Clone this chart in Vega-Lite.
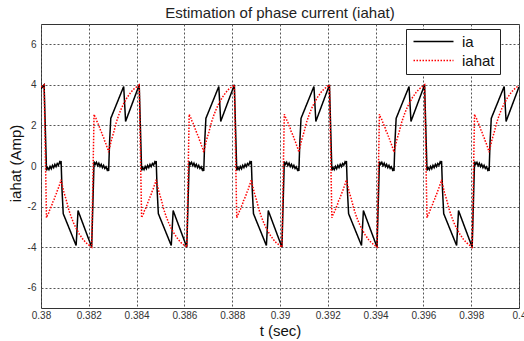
{
"$schema": "https://vega.github.io/schema/vega-lite/v6.json",
"width": 478,
"height": 284,
"autosize": {"type": "none"},
"padding": {"left": 41, "top": 24, "right": 5, "bottom": 33},
"background": "white",
"title": {"text": "Estimation of phase current (iahat)", "fontSize": 15, "font": "Liberation Sans", "fontWeight": "normal", "color": "#222", "offset": 6, "dy": 15, "baseline": "alphabetic", "anchor": "middle"},
"config": {
"view": {"stroke": "#333", "strokeWidth": 1},
"axis": {"labelFont": "Liberation Sans", "titleFont": "Liberation Sans", "labelFontSize": 10, "labelColor": "#333", "titleColor": "#111", "titleFontWeight": "normal", "gridColor": "#555", "gridDash": [2, 2], "gridWidth": 1, "gridOpacity": 1, "ticks": false, "domain": false},
"legend": {"labelFont": "Liberation Sans"}
},
"data": {"values": [
{"t":0.38,"v":3.8,"s":"ia"},{"t":0.38013,"v":4.0,"s":"ia"},
{"t":0.38023,"v":-0.22,"s":"ia"},{"t":0.38028,"v":-0.08,"s":"ia"},{"t":0.38033,"v":-0.18,"s":"ia"},{"t":0.38038,"v":-0.02,"s":"ia"},{"t":0.38043,"v":-0.14,"s":"ia"},{"t":0.38048,"v":0.03,"s":"ia"},{"t":0.38053,"v":-0.08,"s":"ia"},{"t":0.38058,"v":0.08,"s":"ia"},{"t":0.38063,"v":-0.03,"s":"ia"},{"t":0.38068,"v":0.12,"s":"ia"},{"t":0.38073,"v":0.04,"s":"ia"},{"t":0.38078,"v":0.2,"s":"ia"},{"t":0.38082,"v":0.12,"s":"ia"},{"t":0.38084,"v":0.25,"s":"ia"},{"t":0.38088,"v":-1.2,"s":"ia"},{"t":0.38093,"v":-2.35,"s":"ia"},{"t":0.38147,"v":-3.92,"s":"ia"},{"t":0.38155,"v":-2.2,"s":"ia"},{"t":0.38212,"v":-4.0,"s":"ia"},
{"t":0.38222,"v":0.22,"s":"ia"},{"t":0.38227,"v":0.08,"s":"ia"},{"t":0.38232,"v":0.18,"s":"ia"},{"t":0.38237,"v":0.02,"s":"ia"},{"t":0.38242,"v":0.14,"s":"ia"},{"t":0.38247,"v":-0.03,"s":"ia"},{"t":0.38252,"v":0.08,"s":"ia"},{"t":0.38257,"v":-0.08,"s":"ia"},{"t":0.38262,"v":0.03,"s":"ia"},{"t":0.38267,"v":-0.12,"s":"ia"},{"t":0.38272,"v":-0.04,"s":"ia"},{"t":0.38277,"v":-0.2,"s":"ia"},{"t":0.38281,"v":-0.12,"s":"ia"},{"t":0.38283,"v":-0.25,"s":"ia"},{"t":0.38287,"v":1.2,"s":"ia"},{"t":0.38292,"v":2.35,"s":"ia"},{"t":0.38346,"v":3.92,"s":"ia"},{"t":0.38354,"v":2.2,"s":"ia"},{"t":0.38411,"v":4.0,"s":"ia"},
{"t":0.38421,"v":-0.22,"s":"ia"},{"t":0.38426,"v":-0.08,"s":"ia"},{"t":0.38431,"v":-0.18,"s":"ia"},{"t":0.38436,"v":-0.02,"s":"ia"},{"t":0.38441,"v":-0.14,"s":"ia"},{"t":0.38446,"v":0.03,"s":"ia"},{"t":0.38451,"v":-0.08,"s":"ia"},{"t":0.38456,"v":0.08,"s":"ia"},{"t":0.38461,"v":-0.03,"s":"ia"},{"t":0.38466,"v":0.12,"s":"ia"},{"t":0.38471,"v":0.04,"s":"ia"},{"t":0.38476,"v":0.2,"s":"ia"},{"t":0.3848,"v":0.12,"s":"ia"},{"t":0.38482,"v":0.25,"s":"ia"},{"t":0.38486,"v":-1.2,"s":"ia"},{"t":0.38491,"v":-2.35,"s":"ia"},{"t":0.38545,"v":-3.92,"s":"ia"},{"t":0.38553,"v":-2.2,"s":"ia"},{"t":0.3861,"v":-4.0,"s":"ia"},
{"t":0.3862,"v":0.22,"s":"ia"},{"t":0.38625,"v":0.08,"s":"ia"},{"t":0.3863,"v":0.18,"s":"ia"},{"t":0.38635,"v":0.02,"s":"ia"},{"t":0.3864,"v":0.14,"s":"ia"},{"t":0.38645,"v":-0.03,"s":"ia"},{"t":0.3865,"v":0.08,"s":"ia"},{"t":0.38655,"v":-0.08,"s":"ia"},{"t":0.3866,"v":0.03,"s":"ia"},{"t":0.38665,"v":-0.12,"s":"ia"},{"t":0.3867,"v":-0.04,"s":"ia"},{"t":0.38675,"v":-0.2,"s":"ia"},{"t":0.38679,"v":-0.12,"s":"ia"},{"t":0.38681,"v":-0.25,"s":"ia"},{"t":0.38685,"v":1.2,"s":"ia"},{"t":0.3869,"v":2.35,"s":"ia"},{"t":0.38744,"v":3.92,"s":"ia"},{"t":0.38752,"v":2.2,"s":"ia"},{"t":0.38809,"v":4.0,"s":"ia"},
{"t":0.38819,"v":-0.22,"s":"ia"},{"t":0.38824,"v":-0.08,"s":"ia"},{"t":0.38829,"v":-0.18,"s":"ia"},{"t":0.38834,"v":-0.02,"s":"ia"},{"t":0.38839,"v":-0.14,"s":"ia"},{"t":0.38844,"v":0.03,"s":"ia"},{"t":0.38849,"v":-0.08,"s":"ia"},{"t":0.38854,"v":0.08,"s":"ia"},{"t":0.38859,"v":-0.03,"s":"ia"},{"t":0.38864,"v":0.12,"s":"ia"},{"t":0.38869,"v":0.04,"s":"ia"},{"t":0.38874,"v":0.2,"s":"ia"},{"t":0.38878,"v":0.12,"s":"ia"},{"t":0.3888,"v":0.25,"s":"ia"},{"t":0.38884,"v":-1.2,"s":"ia"},{"t":0.38889,"v":-2.35,"s":"ia"},{"t":0.38943,"v":-3.92,"s":"ia"},{"t":0.38951,"v":-2.2,"s":"ia"},{"t":0.39008,"v":-4.0,"s":"ia"},
{"t":0.39018,"v":0.22,"s":"ia"},{"t":0.39023,"v":0.08,"s":"ia"},{"t":0.39028,"v":0.18,"s":"ia"},{"t":0.39033,"v":0.02,"s":"ia"},{"t":0.39038,"v":0.14,"s":"ia"},{"t":0.39043,"v":-0.03,"s":"ia"},{"t":0.39048,"v":0.08,"s":"ia"},{"t":0.39053,"v":-0.08,"s":"ia"},{"t":0.39058,"v":0.03,"s":"ia"},{"t":0.39063,"v":-0.12,"s":"ia"},{"t":0.39068,"v":-0.04,"s":"ia"},{"t":0.39073,"v":-0.2,"s":"ia"},{"t":0.39077,"v":-0.12,"s":"ia"},{"t":0.39079,"v":-0.25,"s":"ia"},{"t":0.39083,"v":1.2,"s":"ia"},{"t":0.39088,"v":2.35,"s":"ia"},{"t":0.39142,"v":3.92,"s":"ia"},{"t":0.3915,"v":2.2,"s":"ia"},{"t":0.39207,"v":4.0,"s":"ia"},
{"t":0.39217,"v":-0.22,"s":"ia"},{"t":0.39222,"v":-0.08,"s":"ia"},{"t":0.39227,"v":-0.18,"s":"ia"},{"t":0.39232,"v":-0.02,"s":"ia"},{"t":0.39237,"v":-0.14,"s":"ia"},{"t":0.39242,"v":0.03,"s":"ia"},{"t":0.39247,"v":-0.08,"s":"ia"},{"t":0.39252,"v":0.08,"s":"ia"},{"t":0.39257,"v":-0.03,"s":"ia"},{"t":0.39262,"v":0.12,"s":"ia"},{"t":0.39267,"v":0.04,"s":"ia"},{"t":0.39272,"v":0.2,"s":"ia"},{"t":0.39276,"v":0.12,"s":"ia"},{"t":0.39278,"v":0.25,"s":"ia"},{"t":0.39282,"v":-1.2,"s":"ia"},{"t":0.39287,"v":-2.35,"s":"ia"},{"t":0.39341,"v":-3.92,"s":"ia"},{"t":0.39349,"v":-2.2,"s":"ia"},{"t":0.39406,"v":-4.0,"s":"ia"},
{"t":0.39416,"v":0.22,"s":"ia"},{"t":0.39421,"v":0.08,"s":"ia"},{"t":0.39426,"v":0.18,"s":"ia"},{"t":0.39431,"v":0.02,"s":"ia"},{"t":0.39436,"v":0.14,"s":"ia"},{"t":0.39441,"v":-0.03,"s":"ia"},{"t":0.39446,"v":0.08,"s":"ia"},{"t":0.39451,"v":-0.08,"s":"ia"},{"t":0.39456,"v":0.03,"s":"ia"},{"t":0.39461,"v":-0.12,"s":"ia"},{"t":0.39466,"v":-0.04,"s":"ia"},{"t":0.39471,"v":-0.2,"s":"ia"},{"t":0.39475,"v":-0.12,"s":"ia"},{"t":0.39477,"v":-0.25,"s":"ia"},{"t":0.39481,"v":1.2,"s":"ia"},{"t":0.39486,"v":2.35,"s":"ia"},{"t":0.3954,"v":3.92,"s":"ia"},{"t":0.39548,"v":2.2,"s":"ia"},{"t":0.39605,"v":4.0,"s":"ia"},
{"t":0.39615,"v":-0.22,"s":"ia"},{"t":0.3962,"v":-0.08,"s":"ia"},{"t":0.39625,"v":-0.18,"s":"ia"},{"t":0.3963,"v":-0.02,"s":"ia"},{"t":0.39635,"v":-0.14,"s":"ia"},{"t":0.3964,"v":0.03,"s":"ia"},{"t":0.39645,"v":-0.08,"s":"ia"},{"t":0.3965,"v":0.08,"s":"ia"},{"t":0.39655,"v":-0.03,"s":"ia"},{"t":0.3966,"v":0.12,"s":"ia"},{"t":0.39665,"v":0.04,"s":"ia"},{"t":0.3967,"v":0.2,"s":"ia"},{"t":0.39674,"v":0.12,"s":"ia"},{"t":0.39676,"v":0.25,"s":"ia"},{"t":0.3968,"v":-1.2,"s":"ia"},{"t":0.39685,"v":-2.35,"s":"ia"},{"t":0.39739,"v":-3.92,"s":"ia"},{"t":0.39747,"v":-2.2,"s":"ia"},{"t":0.39804,"v":-4.0,"s":"ia"},
{"t":0.39814,"v":0.22,"s":"ia"},{"t":0.39819,"v":0.08,"s":"ia"},{"t":0.39824,"v":0.18,"s":"ia"},{"t":0.39829,"v":0.02,"s":"ia"},{"t":0.39834,"v":0.14,"s":"ia"},{"t":0.39839,"v":-0.03,"s":"ia"},{"t":0.39844,"v":0.08,"s":"ia"},{"t":0.39849,"v":-0.08,"s":"ia"},{"t":0.39854,"v":0.03,"s":"ia"},{"t":0.39859,"v":-0.12,"s":"ia"},{"t":0.39864,"v":-0.04,"s":"ia"},{"t":0.39869,"v":-0.2,"s":"ia"},{"t":0.39873,"v":-0.12,"s":"ia"},{"t":0.39875,"v":-0.25,"s":"ia"},{"t":0.39879,"v":1.2,"s":"ia"},{"t":0.39884,"v":2.35,"s":"ia"},{"t":0.39938,"v":3.92,"s":"ia"},{"t":0.39946,"v":2.2,"s":"ia"},{"t":0.4,"v":3.9,"s":"ia"},
{"t":0.38,"v":3.9,"s":"iahat"},{"t":0.38013,"v":4.0,"s":"iahat"},
{"t":0.38023,"v":-2.55,"s":"iahat"},{"t":0.38027,"v":-2.42,"s":"iahat"},{"t":0.38031,"v":-2.35,"s":"iahat"},{"t":0.38035,"v":-2.2,"s":"iahat"},{"t":0.38039,"v":-2.12,"s":"iahat"},{"t":0.38043,"v":-1.98,"s":"iahat"},{"t":0.38047,"v":-1.88,"s":"iahat"},{"t":0.38051,"v":-1.72,"s":"iahat"},{"t":0.38055,"v":-1.64,"s":"iahat"},{"t":0.38059,"v":-1.5,"s":"iahat"},{"t":0.38063,"v":-1.4,"s":"iahat"},{"t":0.38067,"v":-1.25,"s":"iahat"},{"t":0.38071,"v":-1.15,"s":"iahat"},{"t":0.38075,"v":-1.0,"s":"iahat"},{"t":0.38079,"v":-0.88,"s":"iahat"},{"t":0.38084,"v":-0.68,"s":"iahat"},{"t":0.38089,"v":-0.95,"s":"iahat"},{"t":0.38096,"v":-1.3,"s":"iahat"},{"t":0.38105,"v":-1.65,"s":"iahat"},{"t":0.38116,"v":-2.15,"s":"iahat"},{"t":0.38126,"v":-2.5,"s":"iahat"},{"t":0.38136,"v":-2.8,"s":"iahat"},{"t":0.38146,"v":-3.05,"s":"iahat"},{"t":0.38161,"v":-3.37,"s":"iahat"},{"t":0.38176,"v":-3.62,"s":"iahat"},{"t":0.38188,"v":-3.78,"s":"iahat"},{"t":0.38201,"v":-3.9,"s":"iahat"},{"t":0.38212,"v":-4.0,"s":"iahat"},
{"t":0.38222,"v":2.55,"s":"iahat"},{"t":0.38226,"v":2.42,"s":"iahat"},{"t":0.3823,"v":2.35,"s":"iahat"},{"t":0.38234,"v":2.2,"s":"iahat"},{"t":0.38238,"v":2.12,"s":"iahat"},{"t":0.38242,"v":1.98,"s":"iahat"},{"t":0.38246,"v":1.88,"s":"iahat"},{"t":0.3825,"v":1.72,"s":"iahat"},{"t":0.38254,"v":1.64,"s":"iahat"},{"t":0.38258,"v":1.5,"s":"iahat"},{"t":0.38262,"v":1.4,"s":"iahat"},{"t":0.38266,"v":1.25,"s":"iahat"},{"t":0.3827,"v":1.15,"s":"iahat"},{"t":0.38274,"v":1.0,"s":"iahat"},{"t":0.38278,"v":0.88,"s":"iahat"},{"t":0.38283,"v":0.68,"s":"iahat"},{"t":0.38288,"v":0.95,"s":"iahat"},{"t":0.38295,"v":1.3,"s":"iahat"},{"t":0.38304,"v":1.65,"s":"iahat"},{"t":0.38315,"v":2.15,"s":"iahat"},{"t":0.38325,"v":2.5,"s":"iahat"},{"t":0.38335,"v":2.8,"s":"iahat"},{"t":0.38345,"v":3.05,"s":"iahat"},{"t":0.3836,"v":3.37,"s":"iahat"},{"t":0.38375,"v":3.62,"s":"iahat"},{"t":0.38387,"v":3.78,"s":"iahat"},{"t":0.384,"v":3.9,"s":"iahat"},{"t":0.38411,"v":4.0,"s":"iahat"},
{"t":0.38421,"v":-2.55,"s":"iahat"},{"t":0.38425,"v":-2.42,"s":"iahat"},{"t":0.38429,"v":-2.35,"s":"iahat"},{"t":0.38433,"v":-2.2,"s":"iahat"},{"t":0.38437,"v":-2.12,"s":"iahat"},{"t":0.38441,"v":-1.98,"s":"iahat"},{"t":0.38445,"v":-1.88,"s":"iahat"},{"t":0.38449,"v":-1.72,"s":"iahat"},{"t":0.38453,"v":-1.64,"s":"iahat"},{"t":0.38457,"v":-1.5,"s":"iahat"},{"t":0.38461,"v":-1.4,"s":"iahat"},{"t":0.38465,"v":-1.25,"s":"iahat"},{"t":0.38469,"v":-1.15,"s":"iahat"},{"t":0.38473,"v":-1.0,"s":"iahat"},{"t":0.38477,"v":-0.88,"s":"iahat"},{"t":0.38482,"v":-0.68,"s":"iahat"},{"t":0.38487,"v":-0.95,"s":"iahat"},{"t":0.38494,"v":-1.3,"s":"iahat"},{"t":0.38503,"v":-1.65,"s":"iahat"},{"t":0.38514,"v":-2.15,"s":"iahat"},{"t":0.38524,"v":-2.5,"s":"iahat"},{"t":0.38534,"v":-2.8,"s":"iahat"},{"t":0.38544,"v":-3.05,"s":"iahat"},{"t":0.38559,"v":-3.37,"s":"iahat"},{"t":0.38574,"v":-3.62,"s":"iahat"},{"t":0.38586,"v":-3.78,"s":"iahat"},{"t":0.38599,"v":-3.9,"s":"iahat"},{"t":0.3861,"v":-4.0,"s":"iahat"},
{"t":0.3862,"v":2.55,"s":"iahat"},{"t":0.38624,"v":2.42,"s":"iahat"},{"t":0.38628,"v":2.35,"s":"iahat"},{"t":0.38632,"v":2.2,"s":"iahat"},{"t":0.38636,"v":2.12,"s":"iahat"},{"t":0.3864,"v":1.98,"s":"iahat"},{"t":0.38644,"v":1.88,"s":"iahat"},{"t":0.38648,"v":1.72,"s":"iahat"},{"t":0.38652,"v":1.64,"s":"iahat"},{"t":0.38656,"v":1.5,"s":"iahat"},{"t":0.3866,"v":1.4,"s":"iahat"},{"t":0.38664,"v":1.25,"s":"iahat"},{"t":0.38668,"v":1.15,"s":"iahat"},{"t":0.38672,"v":1.0,"s":"iahat"},{"t":0.38676,"v":0.88,"s":"iahat"},{"t":0.38681,"v":0.68,"s":"iahat"},{"t":0.38686,"v":0.95,"s":"iahat"},{"t":0.38693,"v":1.3,"s":"iahat"},{"t":0.38702,"v":1.65,"s":"iahat"},{"t":0.38713,"v":2.15,"s":"iahat"},{"t":0.38723,"v":2.5,"s":"iahat"},{"t":0.38733,"v":2.8,"s":"iahat"},{"t":0.38743,"v":3.05,"s":"iahat"},{"t":0.38758,"v":3.37,"s":"iahat"},{"t":0.38773,"v":3.62,"s":"iahat"},{"t":0.38785,"v":3.78,"s":"iahat"},{"t":0.38798,"v":3.9,"s":"iahat"},{"t":0.38809,"v":4.0,"s":"iahat"},
{"t":0.38819,"v":-2.55,"s":"iahat"},{"t":0.38823,"v":-2.42,"s":"iahat"},{"t":0.38827,"v":-2.35,"s":"iahat"},{"t":0.38831,"v":-2.2,"s":"iahat"},{"t":0.38835,"v":-2.12,"s":"iahat"},{"t":0.38839,"v":-1.98,"s":"iahat"},{"t":0.38843,"v":-1.88,"s":"iahat"},{"t":0.38847,"v":-1.72,"s":"iahat"},{"t":0.38851,"v":-1.64,"s":"iahat"},{"t":0.38855,"v":-1.5,"s":"iahat"},{"t":0.38859,"v":-1.4,"s":"iahat"},{"t":0.38863,"v":-1.25,"s":"iahat"},{"t":0.38867,"v":-1.15,"s":"iahat"},{"t":0.38871,"v":-1.0,"s":"iahat"},{"t":0.38875,"v":-0.88,"s":"iahat"},{"t":0.3888,"v":-0.68,"s":"iahat"},{"t":0.38885,"v":-0.95,"s":"iahat"},{"t":0.38892,"v":-1.3,"s":"iahat"},{"t":0.38901,"v":-1.65,"s":"iahat"},{"t":0.38912,"v":-2.15,"s":"iahat"},{"t":0.38922,"v":-2.5,"s":"iahat"},{"t":0.38932,"v":-2.8,"s":"iahat"},{"t":0.38942,"v":-3.05,"s":"iahat"},{"t":0.38957,"v":-3.37,"s":"iahat"},{"t":0.38972,"v":-3.62,"s":"iahat"},{"t":0.38984,"v":-3.78,"s":"iahat"},{"t":0.38997,"v":-3.9,"s":"iahat"},{"t":0.39008,"v":-4.0,"s":"iahat"},
{"t":0.39018,"v":2.55,"s":"iahat"},{"t":0.39022,"v":2.42,"s":"iahat"},{"t":0.39026,"v":2.35,"s":"iahat"},{"t":0.3903,"v":2.2,"s":"iahat"},{"t":0.39034,"v":2.12,"s":"iahat"},{"t":0.39038,"v":1.98,"s":"iahat"},{"t":0.39042,"v":1.88,"s":"iahat"},{"t":0.39046,"v":1.72,"s":"iahat"},{"t":0.3905,"v":1.64,"s":"iahat"},{"t":0.39054,"v":1.5,"s":"iahat"},{"t":0.39058,"v":1.4,"s":"iahat"},{"t":0.39062,"v":1.25,"s":"iahat"},{"t":0.39066,"v":1.15,"s":"iahat"},{"t":0.3907,"v":1.0,"s":"iahat"},{"t":0.39074,"v":0.88,"s":"iahat"},{"t":0.39079,"v":0.68,"s":"iahat"},{"t":0.39084,"v":0.95,"s":"iahat"},{"t":0.39091,"v":1.3,"s":"iahat"},{"t":0.391,"v":1.65,"s":"iahat"},{"t":0.39111,"v":2.15,"s":"iahat"},{"t":0.39121,"v":2.5,"s":"iahat"},{"t":0.39131,"v":2.8,"s":"iahat"},{"t":0.39141,"v":3.05,"s":"iahat"},{"t":0.39156,"v":3.37,"s":"iahat"},{"t":0.39171,"v":3.62,"s":"iahat"},{"t":0.39183,"v":3.78,"s":"iahat"},{"t":0.39196,"v":3.9,"s":"iahat"},{"t":0.39207,"v":4.0,"s":"iahat"},
{"t":0.39217,"v":-2.55,"s":"iahat"},{"t":0.39221,"v":-2.42,"s":"iahat"},{"t":0.39225,"v":-2.35,"s":"iahat"},{"t":0.39229,"v":-2.2,"s":"iahat"},{"t":0.39233,"v":-2.12,"s":"iahat"},{"t":0.39237,"v":-1.98,"s":"iahat"},{"t":0.39241,"v":-1.88,"s":"iahat"},{"t":0.39245,"v":-1.72,"s":"iahat"},{"t":0.39249,"v":-1.64,"s":"iahat"},{"t":0.39253,"v":-1.5,"s":"iahat"},{"t":0.39257,"v":-1.4,"s":"iahat"},{"t":0.39261,"v":-1.25,"s":"iahat"},{"t":0.39265,"v":-1.15,"s":"iahat"},{"t":0.39269,"v":-1.0,"s":"iahat"},{"t":0.39273,"v":-0.88,"s":"iahat"},{"t":0.39278,"v":-0.68,"s":"iahat"},{"t":0.39283,"v":-0.95,"s":"iahat"},{"t":0.3929,"v":-1.3,"s":"iahat"},{"t":0.39299,"v":-1.65,"s":"iahat"},{"t":0.3931,"v":-2.15,"s":"iahat"},{"t":0.3932,"v":-2.5,"s":"iahat"},{"t":0.3933,"v":-2.8,"s":"iahat"},{"t":0.3934,"v":-3.05,"s":"iahat"},{"t":0.39355,"v":-3.37,"s":"iahat"},{"t":0.3937,"v":-3.62,"s":"iahat"},{"t":0.39382,"v":-3.78,"s":"iahat"},{"t":0.39395,"v":-3.9,"s":"iahat"},{"t":0.39406,"v":-4.0,"s":"iahat"},
{"t":0.39416,"v":2.55,"s":"iahat"},{"t":0.3942,"v":2.42,"s":"iahat"},{"t":0.39424,"v":2.35,"s":"iahat"},{"t":0.39428,"v":2.2,"s":"iahat"},{"t":0.39432,"v":2.12,"s":"iahat"},{"t":0.39436,"v":1.98,"s":"iahat"},{"t":0.3944,"v":1.88,"s":"iahat"},{"t":0.39444,"v":1.72,"s":"iahat"},{"t":0.39448,"v":1.64,"s":"iahat"},{"t":0.39452,"v":1.5,"s":"iahat"},{"t":0.39456,"v":1.4,"s":"iahat"},{"t":0.3946,"v":1.25,"s":"iahat"},{"t":0.39464,"v":1.15,"s":"iahat"},{"t":0.39468,"v":1.0,"s":"iahat"},{"t":0.39472,"v":0.88,"s":"iahat"},{"t":0.39477,"v":0.68,"s":"iahat"},{"t":0.39482,"v":0.95,"s":"iahat"},{"t":0.39489,"v":1.3,"s":"iahat"},{"t":0.39498,"v":1.65,"s":"iahat"},{"t":0.39509,"v":2.15,"s":"iahat"},{"t":0.39519,"v":2.5,"s":"iahat"},{"t":0.39529,"v":2.8,"s":"iahat"},{"t":0.39539,"v":3.05,"s":"iahat"},{"t":0.39554,"v":3.37,"s":"iahat"},{"t":0.39569,"v":3.62,"s":"iahat"},{"t":0.39581,"v":3.78,"s":"iahat"},{"t":0.39594,"v":3.9,"s":"iahat"},{"t":0.39605,"v":4.0,"s":"iahat"},
{"t":0.39615,"v":-2.55,"s":"iahat"},{"t":0.39619,"v":-2.42,"s":"iahat"},{"t":0.39623,"v":-2.35,"s":"iahat"},{"t":0.39627,"v":-2.2,"s":"iahat"},{"t":0.39631,"v":-2.12,"s":"iahat"},{"t":0.39635,"v":-1.98,"s":"iahat"},{"t":0.39639,"v":-1.88,"s":"iahat"},{"t":0.39643,"v":-1.72,"s":"iahat"},{"t":0.39647,"v":-1.64,"s":"iahat"},{"t":0.39651,"v":-1.5,"s":"iahat"},{"t":0.39655,"v":-1.4,"s":"iahat"},{"t":0.39659,"v":-1.25,"s":"iahat"},{"t":0.39663,"v":-1.15,"s":"iahat"},{"t":0.39667,"v":-1.0,"s":"iahat"},{"t":0.39671,"v":-0.88,"s":"iahat"},{"t":0.39676,"v":-0.68,"s":"iahat"},{"t":0.39681,"v":-0.95,"s":"iahat"},{"t":0.39688,"v":-1.3,"s":"iahat"},{"t":0.39697,"v":-1.65,"s":"iahat"},{"t":0.39708,"v":-2.15,"s":"iahat"},{"t":0.39718,"v":-2.5,"s":"iahat"},{"t":0.39728,"v":-2.8,"s":"iahat"},{"t":0.39738,"v":-3.05,"s":"iahat"},{"t":0.39753,"v":-3.37,"s":"iahat"},{"t":0.39768,"v":-3.62,"s":"iahat"},{"t":0.3978,"v":-3.78,"s":"iahat"},{"t":0.39793,"v":-3.9,"s":"iahat"},{"t":0.39804,"v":-4.0,"s":"iahat"},
{"t":0.39814,"v":2.55,"s":"iahat"},{"t":0.39818,"v":2.42,"s":"iahat"},{"t":0.39822,"v":2.35,"s":"iahat"},{"t":0.39826,"v":2.2,"s":"iahat"},{"t":0.3983,"v":2.12,"s":"iahat"},{"t":0.39834,"v":1.98,"s":"iahat"},{"t":0.39838,"v":1.88,"s":"iahat"},{"t":0.39842,"v":1.72,"s":"iahat"},{"t":0.39846,"v":1.64,"s":"iahat"},{"t":0.3985,"v":1.5,"s":"iahat"},{"t":0.39854,"v":1.4,"s":"iahat"},{"t":0.39858,"v":1.25,"s":"iahat"},{"t":0.39862,"v":1.15,"s":"iahat"},{"t":0.39866,"v":1.0,"s":"iahat"},{"t":0.3987,"v":0.88,"s":"iahat"},{"t":0.39875,"v":0.68,"s":"iahat"},{"t":0.3988,"v":0.95,"s":"iahat"},{"t":0.39887,"v":1.3,"s":"iahat"},{"t":0.39896,"v":1.65,"s":"iahat"},{"t":0.39907,"v":2.15,"s":"iahat"},{"t":0.39917,"v":2.5,"s":"iahat"},{"t":0.39927,"v":2.8,"s":"iahat"},{"t":0.39937,"v":3.05,"s":"iahat"},{"t":0.39952,"v":3.37,"s":"iahat"},{"t":0.39967,"v":3.62,"s":"iahat"},{"t":0.39979,"v":3.78,"s":"iahat"},{"t":0.39992,"v":3.9,"s":"iahat"},{"t":0.4,"v":3.95,"s":"iahat"}
]},
"mark": {"type": "line", "clip": true, "strokeWidth": 1.5},
"encoding": {
"x": {"field": "t", "type": "quantitative", "scale": {"domain": [0.38, 0.4], "nice": false, "zero": false},
 "axis": {"values": [0.38, 0.382, 0.384, 0.386, 0.388, 0.39, 0.392, 0.394, 0.396, 0.398, 0.4], "labelExpr": "toString(datum.value)", "labelPadding": 2, "labelFlush": false, "labelOverlap": false, "title": "t (sec)", "titleFontSize": 15, "titleBaseline": "alphabetic", "titleY": 27}},
"y": {"field": "v", "type": "quantitative", "scale": {"domain": [-7, 7], "nice": false, "zero": false},
 "axis": {"values": [-6, -4, -2, 0, 2, 4, 6], "labelExpr": "toString(datum.value)", "labelPadding": 5, "title": "iahat (Amp)", "titleFontSize": 15, "titleAngle": -90, "titleBaseline": "alphabetic", "titleAlign": "center", "titleX": -21, "titleY": 139}},
"color": {"field": "s", "type": "nominal", "scale": {"domain": ["ia", "iahat"], "range": ["#000000", "#ff0000"]},
 "legend": {"title": null, "orient": "none", "legendX": 365, "legendY": 5, "symbolType": "M-1,0H7", "symbolSize": 100, "symbolStrokeWidth": 1.5, "labelFontSize": 15, "labelColor": "#111", "labelOffset": 36, "fillColor": "white", "strokeColor": "#222", "padding": 5, "rowPadding": 3, "labelExpr": "datum.label + '    '"}},
"strokeDash": {"field": "s", "type": "nominal", "scale": {"domain": ["ia", "iahat"], "range": [[1, 0], [1.5, 1.5]]}, "legend": {"title": null, "orient": "none", "legendX": 365, "legendY": 5, "symbolType": "M-1,0H7", "symbolSize": 100, "symbolStrokeWidth": 1.5, "labelFontSize": 15, "labelColor": "#111", "labelOffset": 36, "fillColor": "white", "strokeColor": "#222", "padding": 5, "rowPadding": 3, "labelExpr": "datum.label + '    '"}}
}
}
